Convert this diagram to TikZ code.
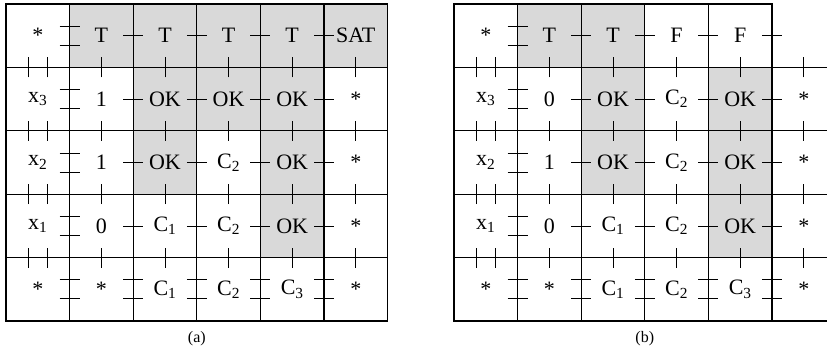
\documentclass[tikz,border=0pt]{standalone}
\usepackage{fontspec}
\setmainfont{Liberation Serif}
\usetikzlibrary{positioning,calc}

\begin{document}
\begin{tikzpicture}[
  x=1pt,y=1pt,
  font=\fontsize{22}{25}\selectfont,
  cell/.style={draw,line width=1.1pt,minimum width=63.6pt,minimum height=63.4pt,inner sep=0pt,outer sep=0pt},
  shade/.style={cell,fill=gray!30},
  open/.style={minimum width=63.6pt,minimum height=63.4pt,inner sep=0pt,outer sep=0pt},
  tick/.style={line width=0.7pt},
  caption/.style={font=\fontsize{16}{19}\selectfont,inner sep=0pt}
]
\useasboundingbox (0,0) rectangle (827,353);
\coordinate (edge) at (827,0);
% grid (a)
\foreach \row [count=\rw from 0] in {
  {*/cell,T/shade,T/shade,T/shade,T/shade,SAT/shade},
  {x\textsubscript{3}/cell,1/cell,OK/shade,OK/shade,OK/shade,*/cell},
  {x\textsubscript{2}/cell,1/cell,OK/shade,C\textsubscript{2}/cell,OK/shade,*/cell},
  {x\textsubscript{1}/cell,0/cell,C\textsubscript{1}/cell,C\textsubscript{2}/cell,OK/shade,*/cell},
  {*/cell,*/cell,C\textsubscript{1}/cell,C\textsubscript{2}/cell,C\textsubscript{3}/cell,*/cell}}{
  \foreach \lab/\sty [count=\cl from 0] in \row
    \node[\sty] (a-\rw-\cl) at (37.8+63.6*\cl,317.3-63.4*\rw) {\lab};
}
% grid (b), last column left open
\foreach \row [count=\rw from 0] in {
  {*/cell,T/shade,T/shade,F/cell,F/cell,{}/open},
  {x\textsubscript{3}/cell,0/cell,OK/shade,C\textsubscript{2}/cell,OK/shade,*/open},
  {x\textsubscript{2}/cell,1/cell,OK/shade,C\textsubscript{2}/cell,OK/shade,*/open},
  {x\textsubscript{1}/cell,0/cell,C\textsubscript{1}/cell,C\textsubscript{2}/cell,OK/shade,*/open},
  {*/cell,*/cell,C\textsubscript{1}/cell,C\textsubscript{2}/cell,C\textsubscript{3}/cell,*/open}}{
  \foreach \lab/\sty [count=\cl from 0] in \row
    \node[\sty] (b-\rw-\cl) at (485.8+63.6*\cl,317.3-63.4*\rw) {\lab};
}
\foreach \rw in {0,...,4}
  \draw[line width=1.1pt] (b-\rw-4.south east) -- (b-\rw-4.south east -| edge);
% links between cells
\foreach \g in {a,b}{
  \foreach \rw in {0,...,3}{
    \foreach \cl in {1,...,5}
      \draw[tick] (\g-\rw-\cl.south) ++(0,-10) -- ++(0,20);
    \foreach \d in {-9.5,9.5}
      \draw[tick] (\g-\rw-0.south) ++(\d,-10) -- ++(0,20);
    \foreach \cl in {1,...,4}
      \draw[tick] (\g-\rw-\cl.east) ++(-10,0) -- ++(20,0);
  }
  \foreach \rw/\cl in {0/0,1/0,2/0,3/0,4/0,4/1,4/2,4/3,4/4}
    \foreach \d in {-9.5,9.5}
      \draw[tick] (\g-\rw-\cl.east) ++(-10,\d) -- ++(20,0);
}
\node[caption,below=10pt of a-4-2.south east] (a-cap) {(a)};
\node[caption,below=10pt of b-4-2.south east] (b-cap) {(b)};
\end{tikzpicture}
\end{document}
